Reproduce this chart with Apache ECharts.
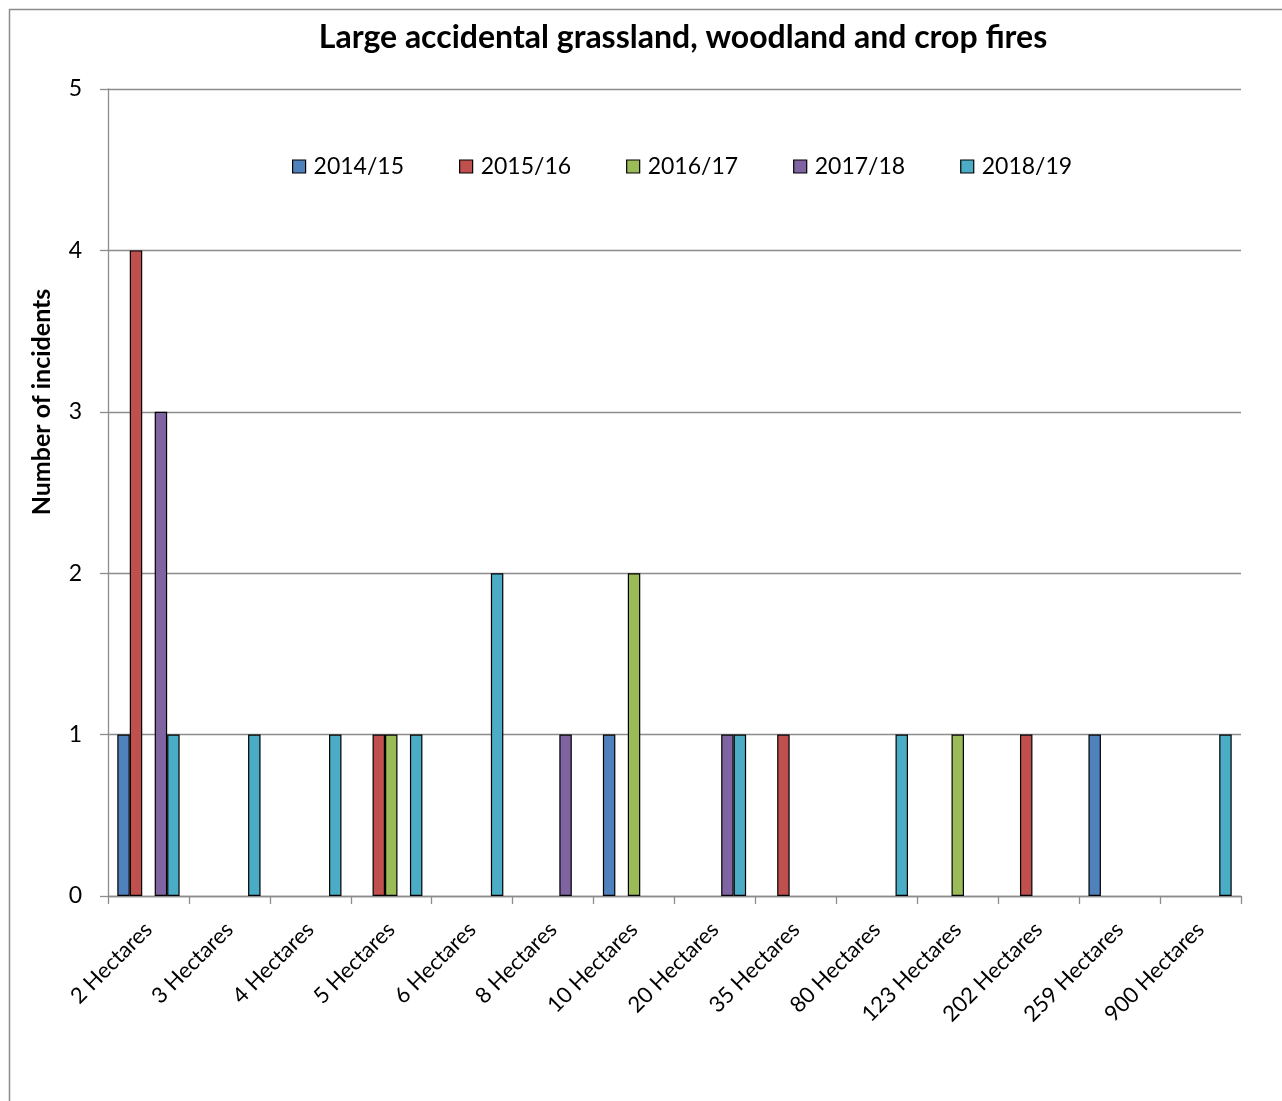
<!DOCTYPE html>
<html><head><meta charset="utf-8">
<script src="https://cdn.jsdelivr.net/npm/echarts@6/dist/echarts.min.js"></script>
<style>html,body{margin:0;padding:0;background:#fff}#c{width:1282px;height:1101px}</style>
</head><body><div id="c"></div>
<script>
const categories = ['2 Hectares','3 Hectares','4 Hectares','5 Hectares','6 Hectares','8 Hectares','10 Hectares','20 Hectares','35 Hectares','80 Hectares','123 Hectares','202 Hectares','259 Hectares','900 Hectares'];
const seriesNames = ['2014/15','2015/16','2016/17','2017/18','2018/19'];
const s2014 = [1,0,0,0,0,0,1,0,0,0,0,0,1,0];
const s2015 = [4,0,0,1,0,0,0,0,1,0,0,1,0,0];
const s2016 = [0,0,0,1,0,0,2,0,0,0,1,0,0,0];
const s2017 = [3,0,0,0,0,1,0,1,0,0,0,0,0,0];
const s2018 = [1,1,1,1,2,0,0,1,0,1,0,0,0,1];
const seriesData = [s2014,s2015,s2016,s2017,s2018];
const colors = ['#4F81BD','#C0504D','#9BBB59','#8064A2','#4BACC6'];
const FONT = 'Lato';

const chart = echarts.init(document.getElementById('c'));
chart.setOption({
  animation: false,
  color: colors,
  title: {
    text: 'Large accidental grassland, woodland and crop fires',
    left: 678, top: 17, textAlign: 'center',
    textStyle: {fontFamily: FONT, fontWeight: 'bold', fontSize: 32, color: '#000'}
  },
  legend: {
    top: 150, left: 287,
    itemWidth: 13, itemHeight: 13, itemGap: 55,
    icon: 'rect',
    textStyle: {fontFamily: FONT, fontSize: 23, color: '#000', padding: [0,0,0,3]},
    itemStyle: {borderColor: '#000', borderWidth: 1.2},
    data: seriesNames
  },
  grid: {left: 108, right: 41, top: 89, bottom: 205, containLabel: false},
  xAxis: {
    type: 'category', data: categories,
    axisLine: {lineStyle: {color: '#8c8c8c', width: 1.3}},
    axisTick: {show: true, length: 8, lineStyle: {color: '#8c8c8c', width: 1.3}},
    axisLabel: {rotate: 45, interval: 0, margin: 30, fontFamily: FONT, fontSize: 22, color: '#000'}
  },
  yAxis: {
    type: 'value', min: 0, max: 5, interval: 1,
    axisLine: {show: true, lineStyle: {color: '#8c8c8c', width: 1.3}},
    axisTick: {show: true, length: 8, lineStyle: {color: '#8c8c8c', width: 1.3}},
    splitLine: {lineStyle: {color: '#8c8c8c', width: 1.3}},
    axisLabel: {margin: 26, fontFamily: FONT, fontSize: 23, color: '#000'}
  },
  graphic: [
    {type: 'rect', left: 7, top: 7, z: -10, silent: true,
     shape: {width: 1400, height: 1300}, style: {fill: 'none', stroke: '#8c8c8c', lineWidth: 1.5}},
    {type: 'text', x: 42, y: 402, rotation: Math.PI/2,
     style: {text: 'Number of incidents', fontFamily: FONT, fontWeight: 'bold', fontSize: 25, fill: '#000', align: 'center', verticalAlign: 'middle'}}
  ],
  series: seriesNames.map((n, i) => ({
    name: n, type: 'bar', data: seriesData[i].map(v => v === 0 ? null : v),
    barGap: '0%', barCategoryGap: '23%',
    itemStyle: {borderColor: '#000', borderWidth: 1.2}
  }))
});
</script></body></html>
